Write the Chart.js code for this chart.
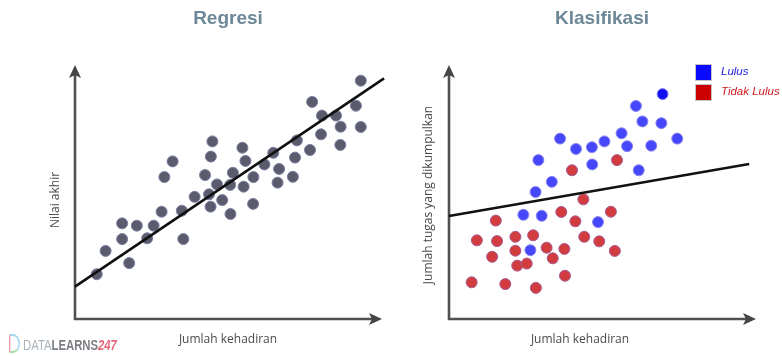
<!DOCTYPE html>
<html>
<head>
<meta charset="utf-8">
<title>Regresi vs Klasifikasi</title>
<script src="https://cdn.jsdelivr.net/npm/chart.js@4.4.1/dist/chart.umd.min.js"></script>
<style>
  body { margin: 0; background: #fff; }
  #wrap { position: relative; width: 782px; height: 356px; overflow: hidden; }
  canvas { position: absolute; top: 0; }
  #regChart { left: 0; }
  #klasChart { left: 391px; }
  .logo { position: absolute; left: 9px; top: 334px; height: 18px; font: 14.5px "Liberation Sans", sans-serif; line-height: 18px; white-space: nowrap; transform: scaleX(0.78); transform-origin: left center; }
  .logo .icon { display: inline-block; width: 10px; height: 15px; margin-right: 4px; vertical-align: -3px; border: 2px solid #7fcbe6; border-left-color: #e47a8c; border-bottom-color: #8ad28a; border-radius: 0 9px 9px 0; opacity: 0.75; }
  .logo .d { color: #a9b2b8; }
  .logo .l { color: #7b7f83; font-weight: bold; }
  .logo .n { color: #e4687c; font-weight: bold; font-style: italic; }
</style>
</head>
<body>
<div id="wrap">
  <canvas id="regChart" width="391" height="356"></canvas>
  <canvas id="klasChart" width="391" height="356"></canvas>
  <div class="logo"><span class="icon"></span><span class="d">DATA</span><span class="l">LEARNS</span><span class="n">247</span></div>
</div>
<script>
// Regresi: jumlah kehadiran vs nilai akhir (skala 0-100)
const regKehadiran = [7.1, 10.0, 17.7, 15.4, 15.4, 20.2, 23.6, 25.7, 28.3, 29.2, 31.9, 34.9, 35.4, 39.1, 42.5, 43.8, 44.3, 44.4, 44.9, 46.4, 48.1, 50.7, 50.8, 51.6, 54.7, 55.1, 55.7, 58.3, 58.2, 61.9, 64.8, 66.2, 66.7, 71.2, 71.9, 72.5, 76.8, 77.5, 80.4, 80.7, 85.3, 86.8, 86.7, 91.8, 93.4, 93.4];
const regNilai = [17.7, 26.9, 22.1, 31.6, 37.8, 36.9, 31.9, 36.9, 42.4, 56.1, 62.3, 42.8, 31.6, 48.3, 56.9, 49.3, 44.4, 64.2, 70.2, 53.2, 47.0, 53.0, 41.5, 57.8, 67.7, 52.3, 62.5, 56.1, 45.5, 61.1, 65.7, 53.9, 59.3, 56.2, 63.8, 70.6, 66.8, 85.8, 73.0, 80.4, 80.4, 76.0, 68.8, 84.3, 94.2, 75.9];
const regLineX = [0, 101];
const regLineY = [12.8, 95.1];

// Klasifikasi: jumlah kehadiran vs jumlah tugas yang dikumpulkan
const lulusKehadiran = [69.8, 61.1, 63.2, 69.4, 56.4, 74.6, 36.3, 41.5, 46.7, 50.8, 58.2, 66.1, 29.2, 46.8, 62.0, 33.6, 28.3, 24.3, 30.3, 48.7, 26.6];
const lulusTugas = [88.9, 84.2, 78.1, 77.4, 73.4, 71.3, 71.3, 67.2, 67.9, 70.2, 68.3, 68.5, 62.8, 61.1, 58.8, 54.2, 50.2, 41.2, 40.8, 38.3, 27.2];
const tidakKehadiran = [54.9, 40.2, 43.9, 36.7, 52.9, 41.3, 15.3, 9.1, 15.7, 21.7, 27.5, 44.2, 49.1, 21.7, 31.9, 37.7, 54.2, 14.1, 22.3, 25.4, 33.9, 37.9, 7.4, 18.4, 28.4];
const tidakTugas = [62.8, 58.8, 47.3, 42.3, 42.4, 38.6, 38.9, 31.1, 30.8, 32.5, 33.1, 32.5, 30.7, 27.0, 28.2, 27.7, 26.9, 24.6, 21.1, 21.9, 24.0, 17.1, 14.5, 13.8, 12.3];
const klasLineX = [0, 98.1];
const klasLineY = [40.7, 61.3];

const toPoints = (xs, ys) => xs.map((x, i) => ({ x: x, y: ys[i] }));

// draws the two arrowed axes and the axis labels
const axisArrows = {
  id: "axisArrows",
  beforeDatasetsDraw(chart, args, opts) {
    const { ctx, chartArea } = chart;
    const { left, right, top, bottom } = chartArea;
    ctx.save();
    ctx.strokeStyle = "#505050";
    ctx.fillStyle = "#454545";
    ctx.lineWidth = 2.6;
    ctx.beginPath();
    ctx.moveTo(left, bottom + 1.3);
    ctx.lineTo(left, top + 8);
    ctx.moveTo(left - 1.3, bottom);
    ctx.lineTo(right - 8, bottom);
    ctx.stroke();
    arrowHead(ctx, left, top - 1, 0);
    arrowHead(ctx, right + 1, bottom, Math.PI / 2);
    ctx.restore();
  },
  afterDraw(chart, args, opts) {
    const ctx = chart.ctx;
    ctx.save();
    ctx.fillStyle = "#4a4a4a";
    ctx.font = "12px 'Open Sans'";
    ctx.textAlign = "center";
    ctx.textBaseline = "middle";
    ctx.fillText(opts.xLabel, opts.xAt[0], opts.xAt[1]);
    ctx.translate(opts.yAt[0], opts.yAt[1]);
    ctx.rotate(-Math.PI / 2);
    ctx.fillText(opts.yLabel, 0, 0);
    ctx.restore();
  },
};

function arrowHead(ctx, x, y, angle) {
  ctx.save();
  ctx.translate(x, y);
  ctx.rotate(angle);
  ctx.beginPath();
  ctx.moveTo(0, 0);
  ctx.lineTo(6, 13);
  ctx.lineTo(0, 10);
  ctx.lineTo(-6, 13);
  ctx.closePath();
  ctx.fill();
  ctx.restore();
}

// small square legend in the top right corner
const boxLegend = {
  id: "boxLegend",
  afterDraw(chart, args, opts) {
    if (!opts.show) return;
    const ctx = chart.ctx;
    ctx.save();
    ctx.font = "italic 11.5px 'Liberation Sans'";
    ctx.textBaseline = "middle";
    let y = opts.y;
    chart.data.datasets.forEach((ds) => {
      if (!ds.legendColor) return;
      ctx.fillStyle = ds.legendColor;
      ctx.fillRect(opts.x, y, 16, 16);
      ctx.strokeStyle = "#c4c4c4";
      ctx.lineWidth = 1;
      ctx.strokeRect(opts.x + 0.5, y + 0.5, 16, 16);
      ctx.fillStyle = ds.textColor;
      ctx.fillText(ds.label, opts.x + 26, y + 8);
      y += 20;
    });
    ctx.restore();
  },
};

function baseOptions(title, padding) {
  return {
    responsive: false,
    animation: false,
    layout: { padding: padding },
    scales: {
      x: { type: "linear", min: 0, max: 100, display: false },
      y: { type: "linear", min: 0, max: 100, display: false },
    },
    plugins: {
      legend: { display: false },
      tooltip: { enabled: false },
      title: {
        display: true,
        text: title,
        fullSize: false,
        color: "#6c8897",
        font: { family: "Liberation Sans", size: 19, weight: "bold" },
        padding: { top: 7.1, bottom: 36.1 },
      },
    },
  };
}

const regOptions = baseOptions("Regresi", { left: 75, right: 10, top: 0, bottom: 37 });
regOptions.plugins.axisArrows = { xLabel: "Jumlah kehadiran", yLabel: "Nilai akhir", xAt: [228, 340], yAt: [56, 200] };
regOptions.plugins.boxLegend = { show: false };

new Chart(document.getElementById("regChart"), {
  type: "scatter",
  data: {
    datasets: [
      {
        type: "line",
        label: "Garis regresi",
        data: toPoints(regLineX, regLineY),
        borderColor: "#111",
        borderWidth: 2.6,
        pointRadius: 0,
        clip: false,
        order: 0,
      },
      {
        label: "Data",
        data: toPoints(regKehadiran, regNilai),
        backgroundColor: "#5a5b6c",
        borderColor: "#7c7ea0",
        borderWidth: 1,
        pointRadius: 5.5,
        order: 1,
      },
    ],
  },
  options: regOptions,
  plugins: [axisArrows, boxLegend],
});

const klasOptions = baseOptions("Klasifikasi", { left: 58, right: 27, top: 0, bottom: 37 });
klasOptions.plugins.axisArrows = { xLabel: "Jumlah kehadiran", yLabel: "Jumlah tugas yang dikumpulkan", xAt: [189, 340], yAt: [38, 195] };
klasOptions.plugins.boxLegend = { show: true, x: 304, y: 64 };

new Chart(document.getElementById("klasChart"), {
  type: "scatter",
  data: {
    datasets: [
      {
        type: "line",
        label: "Batas keputusan",
        data: toPoints(klasLineX, klasLineY),
        borderColor: "#111",
        borderWidth: 2.6,
        pointRadius: 0,
        clip: false,
        order: 0,
      },
      {
        label: "Lulus",
        data: toPoints(lulusKehadiran, lulusTugas),
        backgroundColor: (c) => (c.dataIndex === 0 ? "#1010f0" : "#4646fb"),
        borderColor: "#8a86f0",
        borderWidth: 1,
        pointRadius: 5.5,
        legendColor: "#0a0aff",
        textColor: "#2222dd",
        order: 1,
      },
      {
        label: "Tidak Lulus",
        data: toPoints(tidakKehadiran, tidakTugas),
        backgroundColor: "#d23c3f",
        borderColor: "#a45a92",
        borderWidth: 1,
        pointRadius: 5.5,
        legendColor: "#cc0000",
        textColor: "#cc1a1a",
        order: 2,
      },
    ],
  },
  options: klasOptions,
  plugins: [axisArrows, boxLegend],
});
</script>
</body>
</html>
